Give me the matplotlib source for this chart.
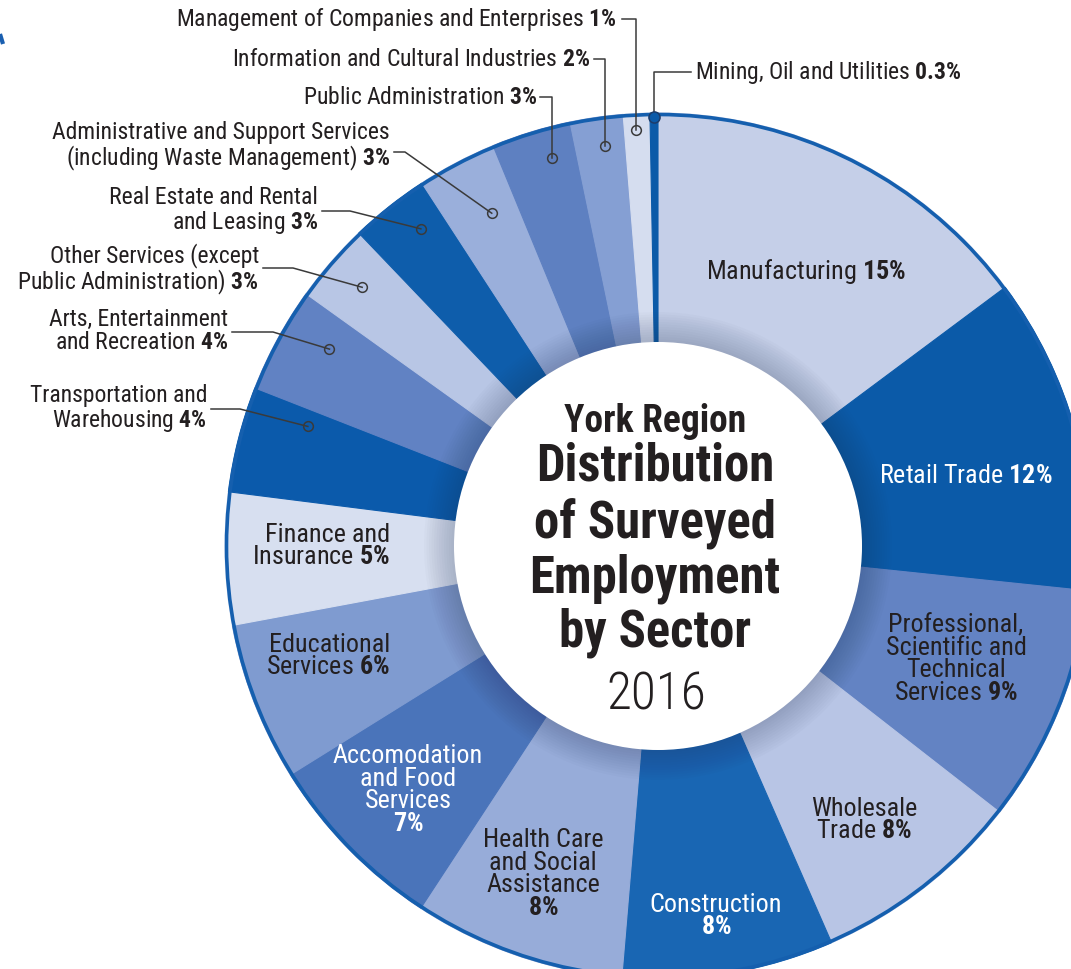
import matplotlib
matplotlib.use("Agg")
import matplotlib.pyplot as plt
from matplotlib import font_manager
from matplotlib.patches import Circle
import numpy as np

# data, clockwise from 12 o'clock
sectors = ["Manufacturing", "Retail Trade",
           "Professional,\nScientific and\nTechnical\nServices",
           "Wholesale\nTrade", "Construction\n",
           "Health Care\nand Social\nAssistance\n",
           "Accomodation\nand Food\nServices\n",
           "Educational\nServices", "Finance and\nInsurance",
           "Transportation and\nWarehousing",
           "Arts, Entertainment\nand Recreation",
           "Other Services (except\nPublic Administration)",
           "Real Estate and Rental\nand Leasing",
           "Administrative and Support Services\n(including Waste Management)",
           "Public Administration",
           "Information and Cultural Industries",
           "Management of Companies and Enterprises",
           "Mining, Oil and Utilities"]
shares = [15, 12, 9, 8, 8, 8, 7, 6, 5, 4, 4, 3, 3, 3, 3, 2, 1, 0.3]
share_labels = ["15%", "12%", "9%", "8%", "8%", "8%", "7%", "6%", "5%",
                "4%", "4%", "3%", "3%", "3%", "3%", "2%", "1%", "0.3%"]
colors = ["#c5cfe8", "#0b5aa8", "#6383c3", "#b8c5e5", "#1966b3", "#97acd9",
          "#4a74ba", "#7f9bd0", "#d7dff0", "#0b5aab", "#6182c3", "#b8c6e5",
          "#0e5dab", "#9aafdb", "#5e80c1", "#859fd3", "#d5ddef", "#0b5aa8"]
title_lines = ["York Region", "Distribution", "of Surveyed", "Employment", "by Sector"]
year = "2016"

available = {f.name for f in font_manager.fontManager.ttflist}
CONDENSED = "Roboto Condensed" in available
FONT = "Roboto Condensed" if CONDENSED else "Roboto"
FS_OUT = 17 if CONDENSED else 15
FS_IN = 18.8 if CONDENSED else 16.5
plt.rcParams.update({
    "font.family": FONT,
    "mathtext.fontset": "custom",
    "mathtext.rm": FONT,
    "mathtext.bf": FONT + ":bold",
    "mathtext.it": FONT + ":italic",
})

DARK = "#231f20"
LINE = "#3a3a3a"
W, H = 1071, 969
fig = plt.figure(figsize=(W / 100, H / 100), dpi=100)
ax = fig.add_axes([0, 0, 1, 1])

CX, CY = 658, H - 546
R_OUT, R_IN = 433, 204

wedges, _ = ax.pie(shares, colors=colors, startangle=90, counterclock=False,
                   radius=R_OUT, center=(CX, CY),
                   wedgeprops=dict(width=R_OUT - R_IN, linewidth=0.8))
for w in wedges:
    w.set_edgecolor(w.get_facecolor())

# soft shadow round the hole
for k in range(12):
    ax.add_patch(Circle((CX, CY), R_IN + 30 - k * 2.5, color="#1b2a4a",
                        alpha=0.02, lw=0, zorder=3))
ax.add_patch(Circle((CX, CY), R_IN, color="white", lw=0, zorder=4))
ax.add_patch(Circle((CX, CY), R_OUT - 1.5, fill=False, ec="#155fae", lw=2.6, zorder=5))


def label(i):
    name = sectors[i]
    pct = r"$\mathbf{" + share_labels[i].replace("%", r"\%") + "}$"
    return name + pct if name.endswith("\n") else name + " " + pct


# labels inside the ring: x, y (pixels from top), ha, colour
inside = {
    0: (806, 271, "center", DARK),
    1: (966, 476, "center", "white"),
    2: (956, 659, "center", DARK),
    3: (864, 820, "center", DARK),
    4: (716, 916, "center", "white"),
    5: (543, 874, "center", DARK),
    6: (408, 790, "center", "white"),
    7: (390, 656, "right", DARK),
    8: (390, 546, "right", DARK),
}
for i, (x, y, ha, c) in inside.items():
    ax.text(x, H - y, label(i), ha=ha, va="center", multialignment=ha,
            fontsize=FS_IN, color=c, linespacing=0.92, zorder=8)

# outside labels: text x, text y, ha, leader start x, elbow x (None = vertical drop), leader y,
# position along wedge, radius of marker
outside = {
    9: (207, 409, "right", 211, 240, 409, 0.18, 370),
    10: (228, 331, "right", 232, 273, 332, 0.33, 383),
    11: (259, 270, "right", 263, 293, 268, 0.48, 393),
    12: (318, 211, "right", 322, 350, 211, 0.35, 396),
    13: (390, 147, "right", 394, 405, 152, 0.39, 372),
    14: (537, 97, "right", 540, None, 97, 0.34, 402),
    15: (590, 59, "right", 594, None, 59, 0.41, 403),
    16: (617, 19, "right", 622, None, 19, 0.54, 417),
    17: (695, 72, "left", 691, None, 72, 0.5, 429),
}
for i, (tx, ty, ha, sx, ex, ly, t, rm) in outside.items():
    ax.text(tx, H - ty, label(i), ha=ha, va="center", multialignment=ha,
            fontsize=FS_OUT, color=DARK, linespacing=1.0, zorder=8)
    w = wedges[i]
    ang = np.deg2rad(w.theta1 + t * (w.theta2 - w.theta1))
    mx, my = CX + rm * np.cos(ang), CY + rm * np.sin(ang)
    if ex is None:
        ex = mx
    ax.plot([sx, ex, mx], [H - ly, H - ly, my], color=LINE, lw=1.1, zorder=6)
    if i == 17:
        ax.plot(mx, my, "o", ms=8, mfc="#0b5aa8", mec="#1d3c6a", mew=1.1, zorder=7)
    else:
        ax.plot(mx, my, "o", ms=7, mfc="none", mec=LINE, mew=1.1, zorder=7)

# centre title
title_y = [432, 480, 538, 593, 647]
title_fs = [27, 36.5, 36.5, 36.5, 36.5] if CONDENSED else [24, 31, 31, 31, 31]
for s, y, fs in zip(title_lines, title_y, title_fs):
    ax.text(CX - 3, H - y, s, ha="center", va="baseline", fontsize=fs,
            fontweight="bold", color=DARK, zorder=8)
ax.text(CX - 2, H - 710, year, ha="center", va="baseline", fontsize=37,
        fontweight="light", color=DARK, zorder=8)

# clipped mark at the left edge
ax.plot([0, 3], [H - 34, H - 44], color="#1a5fb0", lw=3, solid_capstyle="butt")

ax.set_xlim(0, W)
ax.set_ylim(0, H)
ax.set_aspect("equal")
ax.axis("off")
fig.savefig("out.png", dpi=100, facecolor="white")
